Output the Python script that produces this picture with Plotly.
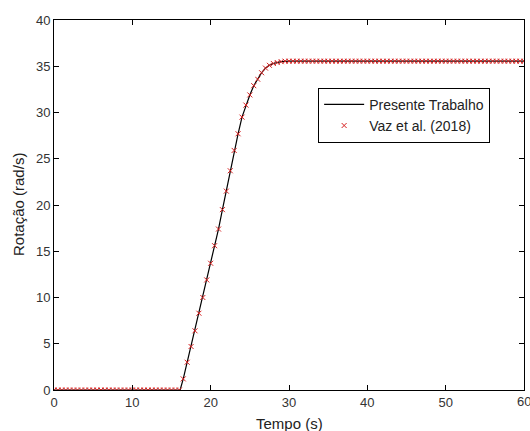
import plotly.graph_objects as go

# Vaz et al. (2018) markers: time (s) and rotation (rad/s)
t_ref = [i * 0.5 for i in range(0, 121)]
ramp_vals = {
    16.5: 1.2, 17.0: 3.0, 17.5: 4.7, 18.0: 6.4, 18.5: 8.3, 19.0: 10.0,
    19.5: 11.9, 20.0: 13.7, 20.5: 15.6, 21.0: 17.4, 21.5: 19.5, 22.0: 21.5,
    22.5: 23.7, 23.0: 25.9, 23.5: 27.7, 24.0: 29.5, 24.5: 30.8, 25.0: 31.9,
    25.5: 32.9, 26.0: 33.6, 26.5: 34.3, 27.0: 34.8, 27.5: 35.1, 28.0: 35.3,
    28.5: 35.4, 29.0: 35.5,
}
w_ref = []
for t in t_ref:
    if t <= 16.0:
        w_ref.append(0.0)
    elif t in ramp_vals:
        w_ref.append(ramp_vals[t])
    else:
        w_ref.append(35.55)

# Presente Trabalho line
t_line = [0.0, 16.1, 16.5, 17.0, 17.5, 18.0, 18.5, 19.0, 19.5, 20.0, 20.5, 21.0,
          21.5, 22.0, 22.5, 23.0, 23.5, 24.0, 24.5, 25.0, 25.5, 26.0, 26.5, 27.0,
          27.5, 28.0, 28.5, 29.0, 30.0, 60.0]
w_line = [0.0, 0.0, 1.2, 3.0, 4.7, 6.4, 8.3, 10.0, 11.9, 13.7, 15.6, 17.4,
          19.5, 21.5, 23.7, 25.9, 27.7, 29.5, 30.8, 31.9, 32.9, 33.6, 34.3, 34.8,
          35.1, 35.3, 35.4, 35.5, 35.55, 35.55]

x_ticks = [0, 10, 20, 30, 40, 50, 60]
y_ticks = [0, 5, 10, 15, 20, 25, 30, 35, 40]

FONT = "Liberation Sans, Arial"
TICKFONT = dict(family=FONT, size=13, color="#333")

fig = go.Figure()
fig.add_trace(go.Scatter(x=t_line, y=w_line, mode="lines", name="Presente Trabalho",
                         line=dict(color="black", width=1.2)))
fig.add_trace(go.Scatter(x=t_ref, y=w_ref, mode="markers", name="Vaz et al. (2018)",
                         marker=dict(symbol="x-thin-open", size=5, color="#d62020",
                                     line=dict(color="#d62020", width=1))))

axis_common = dict(showgrid=False, zeroline=False, showline=True, linecolor="black",
                   linewidth=1, mirror="ticks", ticks="inside", ticklen=5,
                   tickcolor="black", automargin=False, tickfont=TICKFONT)

# the last x tick label overflows the page edge, so draw it as an annotation
x_last = x_ticks[-1]

fig.update_layout(
    width=530, height=431,
    margin=dict(l=54, r=6, t=20, b=41),
    paper_bgcolor="white", plot_bgcolor="white",
    font=dict(family=FONT, color="#222"),
    xaxis=dict(range=[0, 60], tickvals=x_ticks, **axis_common),
    yaxis=dict(range=[0, 40], tickvals=y_ticks, **axis_common),
    legend=dict(x=0.562, y=0.817, xanchor="left", yanchor="top",
                bgcolor="white", bordercolor="black", borderwidth=1,
                font=dict(family=FONT, size=14, color="#222"),
                tracegroupgap=0, itemwidth=40),
    showlegend=True,
    annotations=[
        dict(text="Tempo (s)", xref="paper", yref="paper", x=0.5, y=0,
             yshift=-33, showarrow=False, yanchor="middle",
             font=dict(family=FONT, size=15, color="#222")),
        dict(text="Rotação (rad/s)", xref="paper", yref="paper", x=0, y=0.5,
             xshift=-36, showarrow=False, textangle=-90, xanchor="center",
             font=dict(family=FONT, size=15, color="#222")),
        dict(text=str(x_last), xref="x", yref="paper", x=x_last, y=0,
             yanchor="top", yshift=-2, showarrow=False, xanchor="center",
             font=TICKFONT),
    ],
)

fig.write_html("out.html", config={"displayModeBar": False},
               post_script="document.body.style.margin='0';document.body.style.overflow='hidden';")
